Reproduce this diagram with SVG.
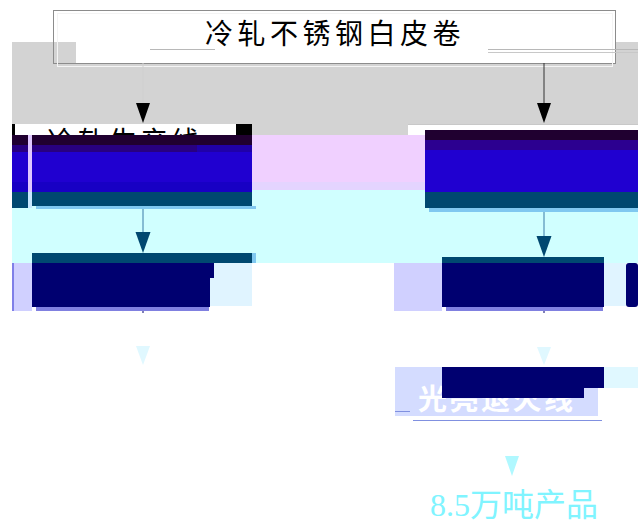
<svg xmlns="http://www.w3.org/2000/svg" width="638" height="527" viewBox="0 0 638 527">
<style>
.cjk{font-family:"Noto Sans CJK SC","Noto Sans",sans-serif;}
.serif{font-family:"Liberation Serif",serif;}
.navy{fill:#000070;}
.teal{fill:#004870;}
.lav{fill:#d0d0ff;}
.shadow{fill:#8080e0;}
.ltblue{fill:#e0f4ff;}
</style>
<rect width="638" height="527" fill="#fff"/>

<!-- background glitch regions -->
<rect x="12" y="42" width="626" height="93" fill="#d3d3d3"/>
<rect x="76" y="42" width="539" height="21" fill="#fff"/>
<rect x="252" y="135" width="173" height="47" fill="#f0d0ff"/>
<rect x="252" y="182" width="173" height="10" fill="#e4d4ff"/>
<rect x="12" y="190" width="626" height="73" fill="#d0ffff"/>

<g id="title">
<rect x="53.5" y="10.5" width="562" height="53" fill="none" stroke="#8c8c8c"/>
<rect x="57.5" y="13.5" width="555" height="53" fill="none" stroke="#f4f4f4"/>
<line x1="150" y1="49.5" x2="215" y2="49.5" stroke="#b8b8b8"/>
<line x1="488" y1="49.5" x2="638" y2="49.5" stroke="#b8b8b8"/>
<line x1="488" y1="52.5" x2="638" y2="52.5" stroke="#c8c8c8"/>
<text class="cjk" x="205" y="44" font-size="28" letter-spacing="4.5" fill="#000">冷轧不锈钢白皮卷</text>
</g>

<g id="connectors">
<line x1="143" y1="63" x2="143" y2="103" stroke="#cfcfcf"/>
<path d="M136,103 L150,103 L143,123 Z" fill="#000"/>
<line x1="544" y1="63" x2="544" y2="103" stroke="#333"/>
<path d="M537,103 L551,103 L544,123 Z" fill="#000"/>
<line x1="143" y1="208" x2="143" y2="232" stroke="#3a7aa8"/>
<path d="M135.5,232 L150.5,232 L143,253 Z" fill="#004870"/>
<line x1="544" y1="209" x2="544" y2="236" stroke="#3a7aa8"/>
<path d="M536.5,236 L551.5,236 L544,257 Z" fill="#004870"/>
<line x1="143" y1="307" x2="143" y2="313" stroke="#000070"/>
<path d="M136,346 L150,346 L143,365 Z" fill="#e0f8ff"/>
<line x1="544" y1="307" x2="544" y2="313" stroke="#000070"/>
<path d="M537,347 L551,347 L544,365 Z" fill="#e0f8ff"/>
<path d="M505,456 L519,456 L512,476 Z" fill="#b0f8ff"/>
</g>

<g id="node-left-1">
<rect x="12" y="124" width="224" height="11" fill="#fff"/>
<text class="cjk" x="47" y="152" font-size="28" letter-spacing="3" fill="#000">冷轧生产线</text>
<rect x="12" y="124" width="3" height="11" fill="#000"/>
<rect x="236" y="124" width="16" height="11" fill="#000"/>
<rect x="12" y="135" width="240" height="10" fill="#200030"/>
<rect x="12" y="145" width="240" height="7" fill="#2000a8"/>
<rect x="12" y="145" width="185" height="7" fill="#280080"/>
<rect x="12" y="152" width="240" height="30" fill="#2000d0"/>
<rect x="12" y="182" width="240" height="10" fill="#1800c4"/>
<rect x="32" y="192" width="220" height="14" class="teal"/>
<rect x="12" y="192" width="16" height="16" class="teal"/>
<rect x="28" y="135" width="4" height="57" fill="#e0c8ff"/>
<rect x="28" y="192" width="4" height="16" fill="#c8e8ff"/>
<rect x="36" y="206" width="220" height="3" fill="#80c8f0"/>
</g>

<g id="node-right-1">
<rect x="408" y="124" width="230" height="11" fill="#fff"/>
<line x1="408" y1="124.5" x2="638" y2="124.5" stroke="#c8c8c8"/>
<rect x="425" y="130" width="213" height="10" fill="#200030"/>
<rect x="425" y="140" width="213" height="10" fill="#2c0090"/>
<rect x="425" y="150" width="213" height="42" fill="#2000d0"/>
<rect x="425" y="192" width="213" height="16" class="teal"/>
<rect x="429" y="208" width="209" height="4" fill="#80c8f0"/>
</g>

<g id="node-left-2">
<rect x="12" y="263" width="20" height="48" class="lav"/>
<rect x="12" y="263" width="2" height="48" fill="#8080e8"/>
<rect x="210" y="263" width="42" height="43" class="ltblue"/>
<rect x="32" y="253" width="220" height="10" class="teal"/>
<rect x="252" y="253" width="4" height="10" fill="#80c8f0"/>
<rect x="32" y="263" width="182" height="15" class="navy"/>
<rect x="32" y="278" width="178" height="29" class="navy"/>
<rect x="36" y="307" width="173" height="4" class="shadow"/>
</g>

<g id="node-right-2">
<rect x="394" y="263" width="48" height="48" class="lav"/>
<rect x="442" y="257" width="162" height="6" class="teal"/>
<rect x="442" y="263" width="162" height="44" class="navy"/>
<rect x="604" y="263" width="22" height="43" class="ltblue"/>
<rect x="626" y="263" width="12" height="44" rx="3" class="navy"/>
<rect x="446" y="307" width="157" height="4" class="shadow"/>
</g>

<g id="node-right-3">
<rect x="395" y="367" width="203" height="49" fill="#d4dcff"/>
<text class="cjk" x="418" y="410" font-size="29" letter-spacing="2.5" font-weight="bold" fill="#fff">光亮退火线</text>
<rect x="442" y="367" width="162" height="21" class="navy"/>
<rect x="442" y="388" width="142" height="10" class="navy"/>
<rect x="604" y="367" width="34" height="21" fill="#e0f8ff"/>
<line x1="395" y1="411.5" x2="410" y2="411.5" stroke="#8090e0"/>
<line x1="413" y1="420.5" x2="602" y2="420.5" stroke="#8090e0"/>
</g>

<g id="node-product">
<text x="430" y="516" font-size="32" fill="#80f4ff"><tspan class="serif">8.5</tspan><tspan class="cjk">万吨产品</tspan></text>
</g>
</svg>
